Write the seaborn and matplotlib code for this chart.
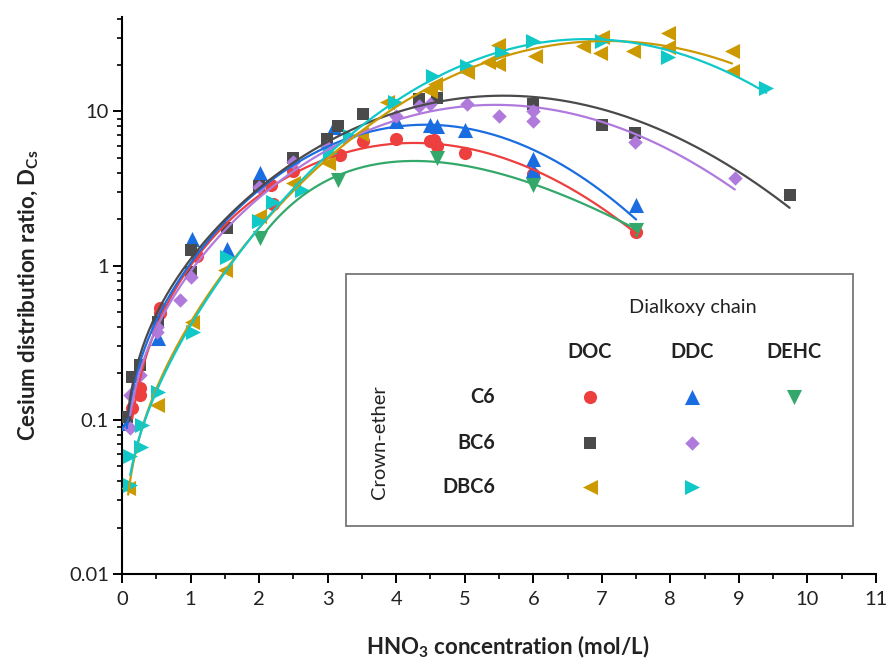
import numpy as np
import pandas as pd
import matplotlib
matplotlib.use("Agg")
import matplotlib.pyplot as plt
import seaborn as sns
from matplotlib.patches import Rectangle
from matplotlib.ticker import FixedLocator, LogLocator, MultipleLocator, NullFormatter

# ---- measured distribution ratios, D_Cs vs HNO3 (mol/L) ----
doc_c6_x = [0.15, 0.26, 0.26, 0.55, 0.55, 1.09, 2.17, 2.20, 2.50, 3.18, 3.51, 4.00, 4.49, 4.55, 4.60, 5.00, 6.00, 7.50]
doc_c6_d = [0.12, 0.16, 0.145, 0.53, 0.49, 1.15, 3.36, 2.50, 4.10, 5.25, 6.40, 6.60, 6.40, 6.50, 6.00, 5.40, 3.96, 1.66]

ddc_c6_x = [0.07, 0.52, 1.02, 1.53, 2.01, 3.10, 4.00, 4.49, 4.60, 5.00, 6.00, 6.00, 7.50]
ddc_c6_d = [0.095, 0.34, 1.50, 1.28, 4.00, 7.90, 8.70, 8.20, 8.00, 7.60, 4.95, 4.20, 2.49]

dehc_c6_x = [2.01, 3.15, 4.60, 6.00, 7.50]
dehc_c6_d = [1.52, 3.60, 5.00, 3.36, 1.71]

doc_bc6_x = [0.08, 0.14, 0.26, 0.52, 1.00, 1.00, 1.53, 2.00, 2.50, 2.99, 3.15, 3.51, 4.34, 4.60, 6.00, 7.00, 7.48, 9.74]
doc_bc6_d = [0.105, 0.19, 0.228, 0.43, 0.91, 1.27, 1.76, 3.30, 5.00, 6.60, 8.00, 9.70, 12.0, 12.2, 11.2, 8.20, 7.30, 2.89]

ddc_bc6_x = [0.12, 0.12, 0.26, 0.51, 0.51, 0.85, 1.00, 2.00, 2.50, 2.99, 4.00, 4.34, 4.49, 5.03, 5.50, 6.00, 6.00, 7.48, 8.94]
ddc_bc6_d = [0.089, 0.145, 0.196, 0.40, 0.37, 0.60, 0.84, 3.26, 4.70, 5.90, 9.30, 10.8, 11.1, 11.2, 9.40, 10.0, 8.70, 6.30, 3.72]

doc_dbc6_x = [0.09, 0.51, 1.02, 1.50, 2.00, 2.50, 3.00, 3.48, 3.86, 4.50, 4.56, 5.03, 5.34, 5.48, 5.48, 6.02,
              6.72, 6.97, 7.00, 7.45, 7.96, 7.96, 8.90, 8.90]
doc_dbc6_d = [0.036, 0.125, 0.43, 0.94, 2.10, 3.46, 4.60, 7.10, 11.6, 13.5, 15.0, 17.9, 20.8, 27.0, 20.2, 23.0,
              26.4, 24.0, 30.6, 24.5, 32.5, 26.0, 24.5, 18.2]

ddc_dbc6_x = [0.12, 0.12, 0.28, 0.29, 0.52, 1.04, 1.53, 2.00, 2.20, 2.62, 3.03, 3.32, 3.98, 4.54, 5.03, 5.54,
              6.00, 7.00, 7.96, 9.40]
ddc_dbc6_d = [0.038, 0.058, 0.067, 0.093, 0.152, 0.37, 1.13, 1.95, 2.60, 3.10, 5.40, 6.90, 11.6, 16.9, 19.6, 24.0,
              28.5, 28.5, 22.7, 14.3]

crown_ethers = ["C6", "BC6", "DBC6"]
chains = ["DOC", "DDC", "DEHC"]
x_ticks = list(range(0, 12))
y_ticks = [0.01, 0.1, 1, 10]
y_tick_labels = ["0.01", "0.1", "1", "10"]

# (crown ether, chain, x, D, colour, marker, marker area, quadratic term in fit)
series = [
    ("C6", "DOC", doc_c6_x, doc_c6_d, "#EE3F3F", "o", 90, True),
    ("C6", "DDC", ddc_c6_x, ddc_c6_d, "#1A6DE0", "^", 118, True),
    ("C6", "DEHC", dehc_c6_x, dehc_c6_d, "#33A86A", "v", 118, False),
    ("BC6", "DOC", doc_bc6_x, doc_bc6_d, "#4A4A4A", "s", 66, True),
    ("BC6", "DDC", ddc_bc6_x, ddc_bc6_d, "#B07ADC", "D", 54, True),
    ("DBC6", "DOC", doc_dbc6_x, doc_dbc6_d, "#CC9900", "<", 118, True),
    ("DBC6", "DDC", ddc_dbc6_x, ddc_dbc6_d, "#10C8C8", ">", 118, True),
]


def log_fit(x, d, quad=True, n=400):
    """Least-squares fit of log10 D = a + b log10 x + c x (+ e x^2)."""
    x = np.asarray(x, float)
    y = np.log10(np.asarray(d, float))

    def basis(v):
        cols = [np.ones_like(v), np.log10(v), v]
        if quad:
            cols.append(v ** 2)
        return np.column_stack(cols)

    coef, *_ = np.linalg.lstsq(basis(x), y, rcond=None)
    xs = np.linspace(x.min(), x.max(), n)
    return xs, 10 ** (basis(xs) @ coef)


sns.set_theme(style="ticks")
plt.rcParams["font.family"] = ["Lato", "DejaVu Sans"]
plt.rcParams["mathtext.fontset"] = "custom"
plt.rcParams["mathtext.rm"] = "Lato:bold"
plt.rcParams["mathtext.bf"] = "Lato:bold"
plt.rcParams["mathtext.it"] = "Lato:bold"

fig = plt.figure(figsize=(8.86, 6.64), dpi=100)
ax = fig.add_axes([0.1377, 0.1355, 0.851, 0.8389])

for ce, ch, xs, ds, col, mk, area, quad in series:
    pts = pd.DataFrame({"x": xs, "D": ds})
    sns.scatterplot(data=pts, x="x", y="D", ax=ax, color=col, marker=mk, s=area,
                    linewidth=0, zorder=3, legend=False)
    fx, fd = log_fit(xs, ds, quad=quad)
    fit = pd.DataFrame({"x": fx, "D": fd})
    sns.lineplot(data=fit, x="x", y="D", ax=ax, color=col, lw=1.6, sort=False,
                 estimator=None, zorder=4, legend=False)

ax.set_yscale("log")
ax.set_xlim(0, 11)
ax.set_ylim(0.01, 41)

ax.xaxis.set_major_locator(FixedLocator(x_ticks))
ax.xaxis.set_minor_locator(MultipleLocator(0.5))
ax.set_xticklabels([str(t) for t in x_ticks])
ax.yaxis.set_major_locator(FixedLocator(y_ticks))
ax.set_yticklabels(y_tick_labels)
ax.yaxis.set_minor_locator(LogLocator(base=10, subs=np.arange(2, 10)))
ax.yaxis.set_minor_formatter(NullFormatter())

ax.tick_params(axis="both", which="major", direction="out", length=6.5, width=1.4,
               color="black", labelsize=14.5, labelcolor="#222222")
ax.tick_params(axis="x", which="major", pad=6)
ax.tick_params(axis="y", which="major", pad=3)
ax.tick_params(axis="both", which="minor", direction="out", length=3.5, width=1.2, color="black")

sns.despine(ax=ax)
for side in ("left", "bottom"):
    ax.spines[side].set_linewidth(1.5)
    ax.spines[side].set_color("black")

ax.set_xlabel("HNO$_\\mathregular{3}$ concentration (mol/L)", fontsize=16, fontweight="bold", color="#222222")
ax.set_ylabel("Cesium distribution ratio, D$_\\mathregular{Cs}$", fontsize=16, fontweight="bold", color="#222222")
ax.xaxis.set_label_coords(0.512, -0.107)
ax.yaxis.set_label_coords(-0.107, 0.5)

# ---- crown-ether / dialkoxy-chain key ----
ax.add_patch(Rectangle((0.297, 0.0862), 0.6725, 0.4524, transform=ax.transAxes,
                       facecolor="white", edgecolor="#777777", lw=1.3, zorder=5, clip_on=False))
ax.text(0.757, 0.4776, "Dialkoxy chain", transform=ax.transAxes, ha="center", va="center",
        fontsize=14.3, color="#222222", zorder=6)
ax.text(0.342, 0.237, "Crown-ether", transform=ax.transAxes, ha="center", va="center",
        rotation=90, fontsize=14.5, color="#222222", zorder=6)

col_x = {"DOC": 0.6207, "DDC": 0.756, "DEHC": 0.891}
row_y = {"C6": 0.3178, "BC6": 0.2352, "DBC6": 0.1562}
for ch in chains:
    ax.text(col_x[ch], 0.3986, ch, transform=ax.transAxes, ha="center", va="center",
            fontsize=14.3, fontweight="bold", color="#222222", zorder=6)
for ce in crown_ethers:
    ax.text(0.4947, row_y[ce], ce, transform=ax.transAxes, ha="right", va="center",
            fontsize=14.3, fontweight="bold", color="#222222", zorder=6)
for ce, ch, xs, ds, col, mk, area, quad in series:
    ax.scatter([col_x[ch]], [row_y[ce]], transform=ax.transAxes, color=col, marker=mk,
               s=area, linewidths=0, zorder=7, clip_on=False)

fig.savefig("out.png", dpi=100)
